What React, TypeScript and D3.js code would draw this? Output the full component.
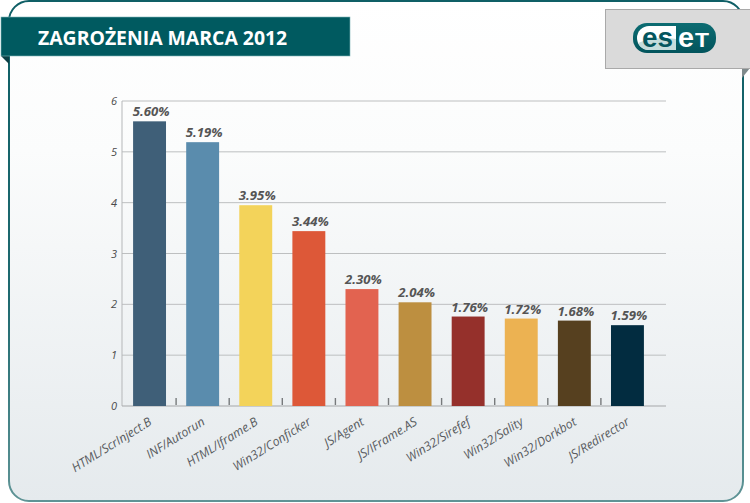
import React from "react";
import * as d3 from "d3";

const categories = ["HTML/ScrInject.B","INF/Autorun","HTML/Iframe.B","Win32/Conficker","JS/Agent","JS/IFrame.AS","Win32/Sirefef","Win32/Sality","Win32/Dorkbot","JS/Redirector"];
const values = [5.6,5.19,3.95,3.44,2.3,2.04,1.76,1.72,1.68,1.59];
const valueLabels = ["5.60%","5.19%","3.95%","3.44%","2.30%","2.04%","1.76%","1.72%","1.68%","1.59%"];
const colors = ["#3f5f78","#5a8cad","#f3d35a","#dd5838","#e26350","#bd8f40","#95302b","#ecb252","#56401f","#022c40"];
const yTicks = [0,1,2,3,4,5,6];
const title = "ZAGROŻENIA MARCA 2012";

const font = "'Open Sans', 'Noto Sans', sans-serif";
const logoFont = "'Liberation Sans', sans-serif";

export default function App() {
  const x = d3.scaleBand<string>().domain(categories).range([123, 654]).paddingInner(0.38).paddingOuter(0.19);
  const y = d3.scaleLinear().domain([0, 6]).range([406, 101]);
  const step = x.step();
  return (
    <svg width={750} height={503} viewBox="0 0 750 503" style={{ position: "absolute", left: 0, top: 0, display: "block" }}>
      <defs>
        <linearGradient id="panel" x1="0" y1="0" x2="0" y2="1">
          <stop offset="0" stopColor="#ffffff" />
          <stop offset="0.3" stopColor="#fbfcfc" />
          <stop offset="1" stopColor="#e5eaed" />
        </linearGradient>
        <linearGradient id="edge" x1="0" y1="0" x2="0" y2="1">
          <stop offset="0" stopColor="#0f5f66" />
          <stop offset="0.6" stopColor="#1f6a70" />
          <stop offset="1" stopColor="#5f9496" />
        </linearGradient>
        <linearGradient id="logo" x1="0" y1="0" x2="0" y2="1">
          <stop offset="0" stopColor="#0c6c72" />
          <stop offset="1" stopColor="#02545c" />
        </linearGradient>
      </defs>
      <rect width={750} height={503} fill="#ffffff" />
      <rect x={9} y={1} width={734} height={500} rx={20} fill="url(#panel)" stroke="url(#edge)" strokeWidth={2} />

      {/* header */}
      <path d="M1,56 L9,64 L9,56 Z" fill="#0c3f44" />
      <rect x={1} y={17} width={349} height={39} fill="#005a60" stroke="#7fb5b8" strokeWidth={0.6} />
      <text x={38} y={45} fontFamily={font} fontSize={19.4} fontWeight={700} fill="#ffffff">{title}</text>

      {/* logo */}
      <path d="M742,68 L750,68 L742,78 Z" fill="#7f8a8c" />
      <rect x={605.5} y={9.5} width={146} height={59} fill="#dadada" stroke="#a9a9a9" />
      <rect x={633} y={23} width={83} height={30} rx={14} fill="url(#logo)" />
      <path d="M649,26 H676 V50 H649 A12,12 0 0 1 649,26 Z" fill="#ffffff" />
      <path d="M638,43 Q655,36 676,39 V50 H649 A12,12 0 0 1 638,43 Z" fill="#c5dcdc" />
      <text x={642} y={47} fontFamily={logoFont} fontSize={27} fontWeight={700} fill="#04565e" textLength={31} lengthAdjust="spacingAndGlyphs">es</text>
      <text x={678} y={47} fontFamily={logoFont} fontSize={27} fontWeight={700} fill="#ffffff" textLength={16} lengthAdjust="spacingAndGlyphs">e</text>
      <text x={695} y={47} fontFamily={logoFont} fontSize={20} fontWeight={700} fill="#ffffff" textLength={14} lengthAdjust="spacingAndGlyphs">T</text>

      {/* grid and axis */}
      {yTicks.filter(t => t > 0).map(t => (
        <line key={t} x1={122} x2={666} y1={y(t)} y2={y(t)} stroke="#bdbfc0" strokeWidth={1} />
      ))}
      <line x1={122} x2={122} y1={101} y2={406} stroke="#b5b7b9" strokeWidth={1} />
      <line x1={122} x2={666} y1={406} y2={406} stroke="#a5a8aa" strokeWidth={1.2} />
      {yTicks.map(t => (
        <text key={t} x={117} y={y(t) + 4} textAnchor="end" fontFamily={font} fontSize={11} fontStyle="italic" fill="#4a4a4a">{t}</text>
      ))}

      {/* ticks */}
      {categories.slice(0, -1).map(c => {
        const tx = (x(c) as number) + x.bandwidth() + (step - x.bandwidth()) / 2;
        return <line key={c} x1={tx} x2={tx} y1={398} y2={405} stroke="#777a7c" strokeWidth={1.4} />;
      })}

      {/* bars */}
      {categories.map((c, i) => (
        <rect key={c} x={x(c)} y={y(values[i])} width={x.bandwidth()} height={406 - y(values[i])} fill={colors[i]} />
      ))}

      {/* value labels */}
      {categories.map((c, i) => (
        <text key={c} x={(x(c) as number) + x.bandwidth() / 2 + 1.5} y={y(values[i]) - 5} textAnchor="middle" fontFamily={font} fontSize={13.2} fontWeight={700} fontStyle="italic" fill="#555555">{valueLabels[i]}</text>
      ))}

      {/* category labels */}
      {categories.map(c => {
        const cx = (x(c) as number) + x.bandwidth() / 2 + 3;
        return (
          <text key={c} transform={`translate(${cx},424) rotate(-32)`} textAnchor="end" fontFamily={font} fontSize={12.3} fontStyle="italic" fill="#585b5e">{c}</text>
        );
      })}
    </svg>
  );
}
